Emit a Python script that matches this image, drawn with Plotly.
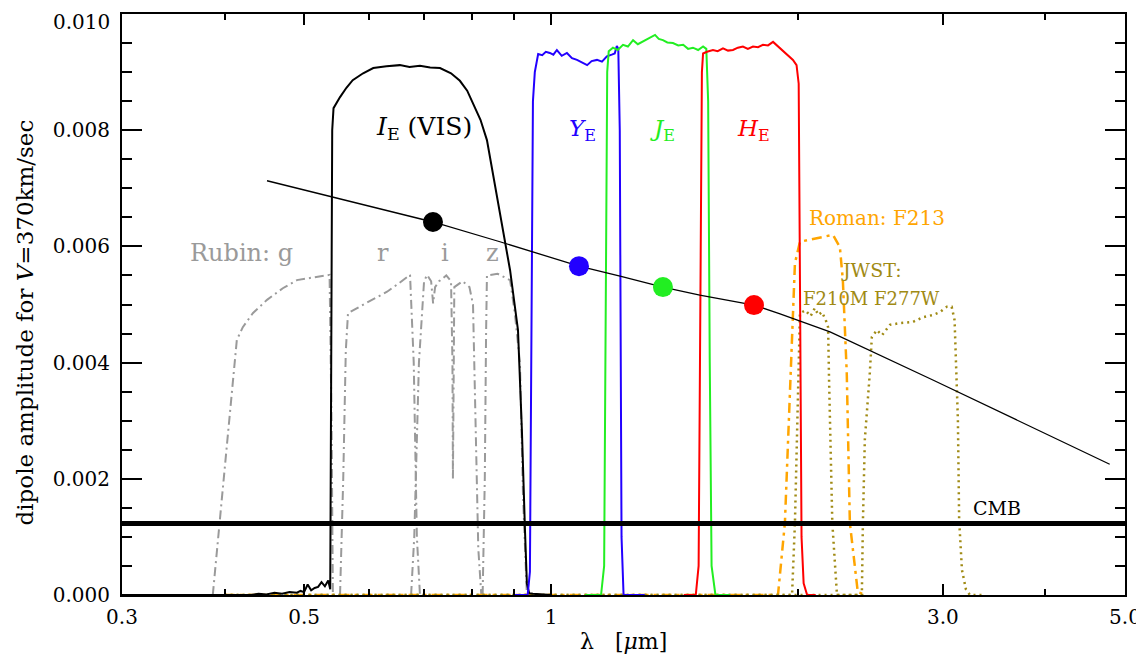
import numpy as np
import plotly.graph_objects as go

# ---------------- data ----------------
# Euclid VIS (I_E) throughput, scaled
vis_lam = [0.30, 0.43, 0.44, 0.45, 0.46, 0.47, 0.48, 0.49, 0.495, 0.50, 0.505, 0.51, 0.515,
           0.52, 0.525, 0.53, 0.535, 0.538, 0.5395, 0.541, 0.543, 0.548, 0.553, 0.563, 0.573,
           0.590, 0.607, 0.630, 0.654, 0.672, 0.692, 0.712, 0.732, 0.755, 0.774, 0.790, 0.803,
           0.820, 0.835, 0.849, 0.862, 0.873, 0.891, 0.911, 0.921, 0.929, 0.934, 0.940, 0.95,
           1.0]
vis_val = [0, 0, 0.00002, 0.00001, 0.00004, 0.00002, 0.00005, 0.00004, 0.00007, 0.00005,
           0.00018, 0.00008, 0.00012, 0.00014, 0.00022, 0.00015, 0.00025, 0.00010, 0.0040,
           0.0080, 0.00838, 0.00848, 0.00857, 0.00873, 0.00886, 0.00898, 0.00907, 0.00910,
           0.00912, 0.00909, 0.00911, 0.00908, 0.00907, 0.00898, 0.00885, 0.00868, 0.00847,
           0.00818, 0.00783, 0.00726, 0.00678, 0.00628, 0.00559, 0.00456, 0.00284, 0.00112,
           0.0002, 0.00003, 0.00002, 0.0]

# Euclid NISP Y_E
ye_lam = [0.90, 0.936, 0.942, 0.946, 0.950, 0.955, 0.964, 0.975, 0.985, 0.996, 1.006, 1.016,
          1.030, 1.045, 1.060, 1.075, 1.090, 1.106, 1.120, 1.137, 1.153, 1.169, 1.185, 1.195,
          1.202, 1.207, 1.212, 1.218, 1.225, 1.30]
ye_val = [0, 0, 0.0004, 0.0040, 0.0085, 0.0090, 0.00931, 0.00929, 0.00935, 0.00933, 0.00930,
          0.00938, 0.00928, 0.00933, 0.00924, 0.00921, 0.00916, 0.00912, 0.00919, 0.00921,
          0.00918, 0.00927, 0.00930, 0.00932, 0.00945, 0.00940, 0.0080, 0.0010, 0.0, 0]

# Euclid NISP J_E
je_lam = [1.10, 1.150, 1.160, 1.166, 1.170, 1.175, 1.189, 1.205, 1.223, 1.240, 1.258, 1.275,
          1.294, 1.315, 1.338, 1.352, 1.368, 1.385, 1.407, 1.428, 1.448, 1.468, 1.488, 1.510,
          1.531, 1.545, 1.553, 1.560, 1.568, 1.585, 1.65]
je_val = [0, 0, 0.0005, 0.0050, 0.0090, 0.00936, 0.00942, 0.00938, 0.00947, 0.00944, 0.00955,
          0.00948, 0.00953, 0.00958, 0.00964, 0.00957, 0.00955, 0.00951, 0.00950, 0.00946,
          0.00947, 0.00940, 0.00942, 0.00938, 0.00944, 0.00940, 0.0085, 0.0040, 0.0005, 0, 0]

# Euclid NISP H_E
he_lam = [1.45, 1.500, 1.512, 1.520, 1.526, 1.531, 1.548, 1.574, 1.595, 1.619, 1.642, 1.665,
          1.688, 1.712, 1.736, 1.761, 1.786, 1.811, 1.837, 1.863, 1.890, 1.916, 1.943, 1.970,
          1.990, 2.002, 2.010, 2.018, 2.030, 2.050, 2.10]
he_val = [0, 0, 0.0005, 0.0045, 0.0090, 0.00932, 0.00935, 0.00938, 0.00936, 0.00941, 0.00937,
          0.00938, 0.00942, 0.00944, 0.00940, 0.00944, 0.00943, 0.00947, 0.00946, 0.00952,
          0.00944, 0.00935, 0.00928, 0.00921, 0.00912, 0.0088, 0.0050, 0.0010, 0.0002, 0, 0]

# Rubin g, r, i, z
g_lam = [0.387, 0.4006, 0.4096, 0.414, 0.421, 0.433, 0.4506, 0.471, 0.490, 0.513, 0.537,
         0.540, 0.542]
g_val = [0, 0.00227, 0.0037, 0.00439, 0.00461, 0.00485, 0.00508, 0.00528, 0.00542, 0.00547,
         0.00551, 0.0030, 0]
r_lam = [0.553, 0.558, 0.562, 0.5655, 0.596, 0.631, 0.650, 0.673, 0.680, 0.686, 0.692]
r_val = [0, 0.0020, 0.0042, 0.00485, 0.00503, 0.00522, 0.00535, 0.00551, 0.0040, 0.0010, 0]
i_lam = [0.675, 0.681, 0.690, 0.700, 0.706, 0.714, 0.718, 0.722, 0.730, 0.745, 0.755, 0.758,
         0.759, 0.760, 0.762, 0.780, 0.795, 0.803, 0.808, 0.815, 0.822]
i_val = [0, 0.0010, 0.0040, 0.0054, 0.00551, 0.0054, 0.00502, 0.0053, 0.0054, 0.0055, 0.0054,
         0.0040, 0.0020, 0.0040, 0.0053, 0.0054, 0.0053, 0.0050, 0.0030, 0.0008, 0]
z_lam = [0.825, 0.830, 0.833, 0.835, 0.860, 0.891, 0.903, 0.916, 0.924, 0.934]
z_val = [0, 0.0020, 0.0045, 0.0055, 0.00553, 0.00542, 0.00485, 0.00399, 0.00169, 0.0]

# Roman F213
rom_lam = [0.40, 1.889, 1.926, 1.954, 1.981, 2.009, 2.095, 2.204, 2.247, 2.266, 2.291, 2.311,
           2.363, 2.42]
rom_val = [0, 0, 0.00124, 0.0037, 0.00571, 0.00608, 0.00614, 0.0062, 0.00599, 0.00542,
           0.00382, 0.00124, 0.00005, 0]

# JWST F210M and F277W
f210_lam = [0.40, 1.965, 1.981, 1.990, 2.000, 2.009, 2.04, 2.07, 2.095, 2.115, 2.137, 2.16,
            2.174, 2.18, 2.19, 2.20, 2.229, 2.40]
f210_val = [0, 0, 0.00124, 0.00267, 0.0037, 0.00485, 0.00490, 0.00480, 0.00494, 0.00482,
            0.00487, 0.00473, 0.00461, 0.0037, 0.00267, 0.00124, 0, 0]
f277_lam = [0.40, 2.39, 2.397, 2.41, 2.444, 2.458, 2.493, 2.529, 2.586, 2.659, 2.758, 2.837,
            2.917, 2.975, 3.034, 3.075, 3.10, 3.115, 3.129, 3.140, 3.165, 3.20, 3.236, 3.35]
f277_val = [0, 0, 0.00124, 0.00267, 0.00382, 0.00444, 0.00456, 0.00447, 0.00465, 0.00468,
            0.0047, 0.00478, 0.00482, 0.00487, 0.00496, 0.00496, 0.00473, 0.0037, 0.00301,
            0.00129, 0.00043, 0.0001, 0, 0]

# kinematic dipole amplitude vs wavelength
dip_lam = [0.4506, 0.5685, 0.7177, 0.866, 1.081, 1.213, 1.368, 1.517, 1.766, 1.900, 2.186,
           2.917, 3.724, 4.79]
dip_val = [0.00713, 0.00678, 0.00642, 0.00608, 0.00566, 0.00549, 0.00530, 0.00516, 0.00499,
           0.00484, 0.00453, 0.00370, 0.00299, 0.00225]

# band points
pt_lam = [0.7177, 1.081, 1.368, 1.766]
pt_val = [0.00642, 0.00566, 0.00530, 0.00499]
pt_col = ["#000000", "#2200ff", "#22ee22", "#ff0000"]

cmb_val = 0.00123
x_range = [0.3, 5.0]
y_range = [0.0, 0.010]

x_tick_vals = [0.3, 0.5, 1, 3, 5]
x_tick_text = ["0.3", "0.5", "1", "3.0", "5.0"]
x_minor_vals = [0.4, 0.6, 0.7, 0.8, 0.9, 2, 4]
y_tick_vals = [0.000, 0.002, 0.004, 0.006, 0.008, 0.010]
y_tick_text = ["0.000", "0.002", "0.004", "0.006", "0.008", "0.010"]

# ---------------- figure ----------------
GRAY = "#9a9a9a"
BLUE = "#2200ff"
GREEN = "#22ee22"
RED = "#ff0000"
ORANGE = "#ffa500"
OLIVE = "#a08a14"
FONT = "DejaVu Serif"

fig = go.Figure()

def line(x, y, color, width, dash="solid"):
    fig.add_trace(go.Scatter(x=x, y=y, mode="lines",
                             line=dict(color=color, width=width, dash=dash),
                             hoverinfo="skip", showlegend=False))

# Rubin
rubin_dash = "9px,4px,2px,4px"
for lx, ly in [(g_lam, g_val), (r_lam, r_val), (i_lam, i_val), (z_lam, z_val)]:
    line(lx, ly, GRAY, 2, rubin_dash)

# Roman and JWST
line(rom_lam, rom_val, ORANGE, 2.5, "10px,5px,3px,5px")
line(f210_lam, f210_val, OLIVE, 2.5, "2px,4px")
line(f277_lam, f277_val, OLIVE, 2.5, "2px,4px")

# Euclid
line(vis_lam, vis_val, "#000000", 2)
line(ye_lam, ye_val, BLUE, 2)
line(je_lam, je_val, GREEN, 2)
line(he_lam, he_val, RED, 2)

# CMB
line(x_range, [cmb_val, cmb_val], "#000000", 5)

# dipole curve
line(dip_lam, dip_val, "#000000", 1.3)
fig.add_trace(go.Scatter(x=pt_lam, y=pt_val, mode="markers",
                         marker=dict(size=20, color=pt_col, line=dict(width=0)),
                         hoverinfo="skip", showlegend=False))

def ann(lam, val, text, color, size=21):
    fig.add_annotation(x=np.log10(lam), y=val, xref="x", yref="y", text=text,
                       showarrow=False, font=dict(family=FONT, size=size, color=color),
                       xanchor="center", yanchor="middle")

ann(0.420, 0.00589, "Rubin: g", GRAY, 24)
ann(0.624, 0.00589, "r", GRAY, 24)
ann(0.742, 0.00589, "i", GRAY, 24)
ann(0.849, 0.00589, "z", GRAY, 24)
ann(0.700, 0.00804, "<i>I</i><sub>E</sub> (VIS)", "#000000", 25)
ann(1.093, 0.00800, "<i>Y</i><sub>E</sub>", BLUE, 23)
ann(1.368, 0.00800, "<i>J</i><sub>E</sub>", GREEN, 23)
ann(1.766, 0.00800, "<i>H</i><sub>E</sub>", RED, 23)
ann(2.493, 0.00649, "Roman: F213", ORANGE, 20)
ann(2.458, 0.00559, "JWST:", OLIVE, 19)
ann(2.458, 0.00511, "F210M F277W", OLIVE, 18)
ann(3.49, 0.00150, "CMB", "#000000", 19)

# top y tick label drawn slightly below its tick (as in the reference) so it is not cut
fig.add_annotation(x=-0.010, y=0.9862, xref="paper", yref="paper", text=y_tick_text[-1],
                   showarrow=False, font=dict(family=FONT, size=20, color="#000000"),
                   xanchor="right", yanchor="middle")
y_axis_text = y_tick_text[:-1] + [""]

# axis titles
fig.add_annotation(x=-0.0967, y=0.469, xref="paper", yref="paper",
                   text="dipole amplitude for <i>V</i>=370km/sec", textangle=-90,
                   showarrow=False, font=dict(family=FONT, size=23, color="#000000"),
                   xanchor="center", yanchor="middle")
fig.add_annotation(x=0.5, y=-0.080, xref="paper", yref="paper",
                   text="λ\u00a0\u00a0\u00a0[<i>μ</i>m]",
                   showarrow=False, font=dict(family=FONT, size=22, color="#000000"),
                   xanchor="center", yanchor="middle")

fig.update_xaxes(type="log", range=[np.log10(x_range[0]), np.log10(x_range[1])],
                 tickmode="array", tickvals=x_tick_vals, ticktext=x_tick_text,
                 ticks="inside", ticklen=11, tickwidth=1.5, tickcolor="#000",
                 minor=dict(tickmode="array", tickvals=x_minor_vals, ticks="inside",
                            ticklen=6, tickwidth=1.5, tickcolor="#000"),
                 showline=True, linecolor="#000", linewidth=2, mirror="ticks",
                 showgrid=False, zeroline=False, ticklabelstandoff=3, automargin=False,
                 ticklabeloverflow="allow",
                 tickfont=dict(family=FONT, size=20, color="#000"))
fig.update_yaxes(range=y_range, tickmode="array", tickvals=y_tick_vals,
                 ticktext=y_axis_text,
                 ticks="inside", ticklen=20, tickwidth=1.5, tickcolor="#000",
                 minor=dict(dtick=0.0005, ticks="inside", ticklen=10, tickwidth=1.5,
                            tickcolor="#000"),
                 showline=True, linecolor="#000", linewidth=2, mirror="ticks",
                 showgrid=False, zeroline=False, ticklabelstandoff=6, automargin=False,
                 ticklabeloverflow="allow",
                 tickfont=dict(family=FONT, size=20, color="#000"))

# page body adds an 8px offset, so the figure is sized to fit the 1144x662 window
fig.update_layout(width=1136, height=646, margin=dict(l=114, r=19, t=6, b=59),
                  paper_bgcolor="white", plot_bgcolor="white", showlegend=False)

fig.write_html("out.html")
